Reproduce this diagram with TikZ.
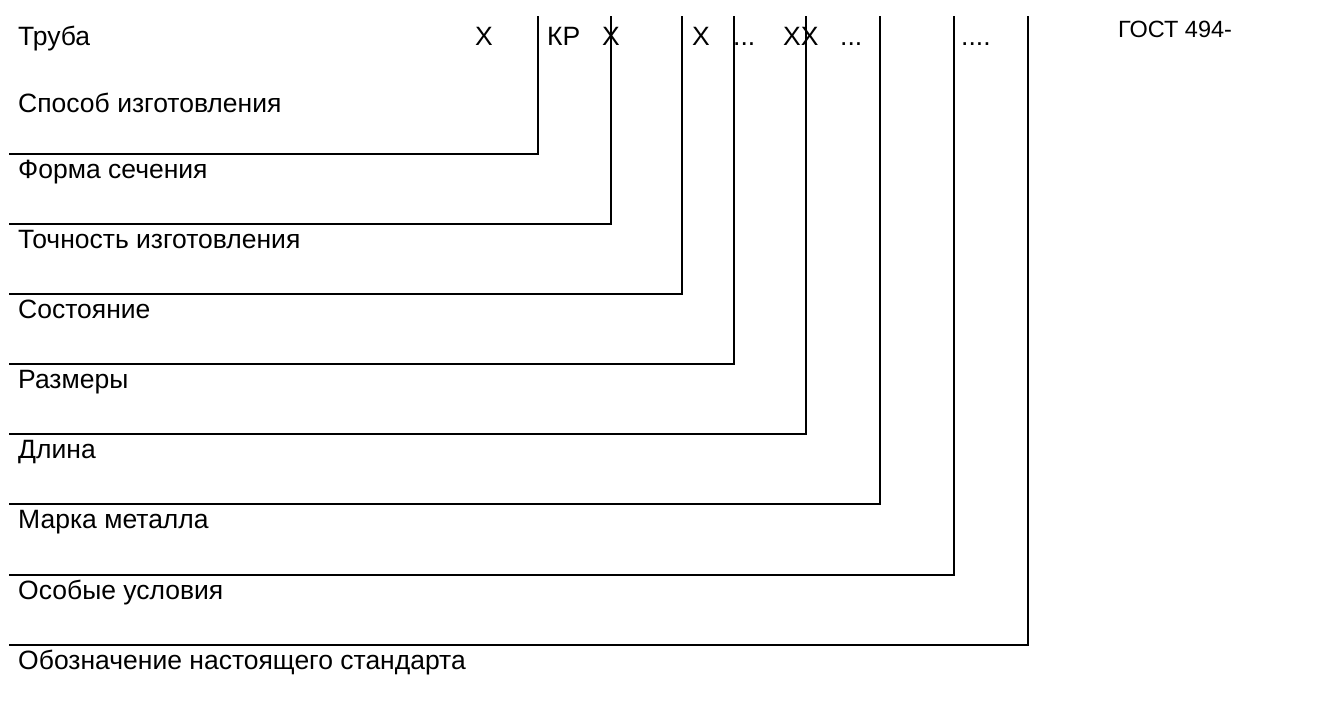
\documentclass[tikz,border=0pt]{standalone}
\usepackage{fontspec}
\setmainfont{Liberation Sans}
\begin{document}
\begin{tikzpicture}[x=1pt,y=-1pt,
  lbl/.style={anchor=base west,inner sep=0pt,font=\fontsize{26.5}{30}\selectfont},
  gost/.style={anchor=base west,inner sep=0pt,font=\fontsize{23.5}{26}\selectfont},
  leader/.style={line width=1.6pt,line cap=square,line join=miter,black}]
\useasboundingbox (0,0) rectangle (1317,707);
% top row
\node[lbl] (tr) at (18,45) {Труба};
\node[lbl] (x1) at (475,45) {X};
\node[lbl] (kr) at (547,45) {КР};
\node[lbl] (x2) at (602,45) {X};
\node[lbl] (x3) at (692,45) {X};
\node[lbl] (d1) at (733,45) {...};
\node[lbl] (xx) at (783,45) {XX};
\node[lbl] (d2) at (840,45) {...};
\node[lbl] (d3) at (961,45) {....};
\node[gost] (gost) at (1118,37) {ГОСТ 494-};
% labels
\node[lbl] (l1) at (18,112) {Способ изготовления};
\node[lbl] (l2) at (18,178) {Форма сечения};
\node[lbl] (l3) at (18,248) {Точность изготовления};
\node[lbl] (l4) at (18,318) {Состояние};
\node[lbl] (l5) at (18,388) {Размеры};
\node[lbl] (l6) at (18,458) {Длина};
\node[lbl] (l7) at (18,528) {Марка металла};
\node[lbl] (l8) at (18,599) {Особые условия};
\node[lbl] (l9) at (18,669) {Обозначение настоящего стандарта};
% leader lines
\foreach \i/\x/\y in {1/538/154, 2/611/224, 3/682/294, 4/734/364, 5/806/434, 6/880/504, 7/954/575, 8/1028/645}{
  \coordinate (s\i) at (9,\y);
  \coordinate (c\i) at (\x,\y);
  \coordinate (t\i) at (\x,16);
  \draw[leader] (s\i) -- (c\i) -- (t\i);
}
\end{tikzpicture}
\end{document}
